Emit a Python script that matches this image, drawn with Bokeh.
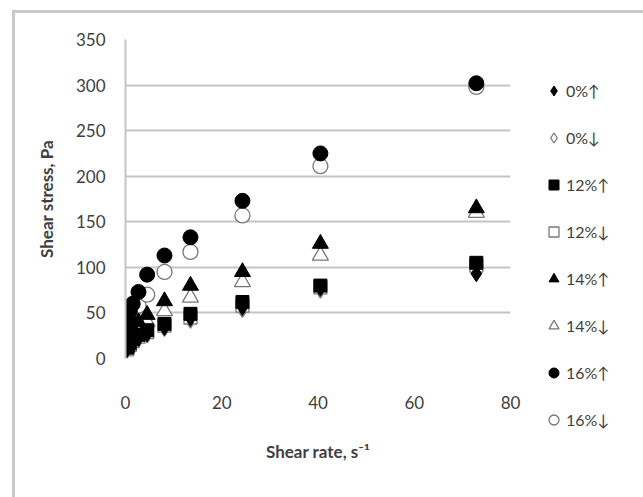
from bokeh.plotting import figure
from bokeh.models import Range1d, Legend, LegendItem, FixedTicker
from bokeh.embed import file_html
from bokeh.resources import INLINE

shear_rate = [0.3, 0.5, 0.9, 1.5, 2.7, 4.5, 8.1, 13.5, 24.3, 40.5, 72.9]

s0_up   = [10, 12, 15, 18, 22, 27, 34, 44, 56, 77, 93]
s0_dn   = [9, 11, 14, 17, 21, 26, 33, 42, 54, 75, 96]
s12_up  = [12, 14, 17, 21, 26, 31, 38, 49, 62, 80, 105]
s12_dn  = [10, 12, 15, 19, 24, 29, 36, 45, 58, 78, 102]
s14_up  = [18, 22, 28, 33, 40, 48, 63, 80, 95, 126, 165]
s14_dn  = [14, 18, 22, 27, 33, 40, 52, 67, 84, 113, 160]
s16_up  = [35, 45, 52, 60, 73, 92, 113, 133, 173, 225, 302]
s16_dn  = [28, 35, 42, 50, 58, 70, 95, 117, 157, 211, 298]

legend_labels = ["0%↑", "0%↓", "12%↑", "12%↓", "14%↑", "14%↓", "16%↑", "16%↓"]
x_ticks = [0, 20, 40, 60, 80]
y_ticks = [0, 50, 100, 150, 200, 250, 300, 350]

FONT = "Lato"
TXT = "#404040"
GRID = "#c4c4c4"
OPEN_LINE = "#777777"

p = figure(frame_width=385, frame_height=319,
           min_border_left=110, min_border_top=26, min_border_bottom=141,
           min_border_right=110,
           x_range=Range1d(0, 80), y_range=Range1d(0, 350),
           output_backend="svg", toolbar_location=None,
           margin=(10, 0, 0, 12),
           styles={"border-top": "3px solid #c8c8c8",
                   "border-left": "3px solid #c8c8c8",
                   "border-right": "3px solid #c8c8c8"})
p.outline_line_color = None
p.background_fill_color = "white"
p.border_fill_color = "white"

p.xaxis.ticker = FixedTicker(ticks=x_ticks)
p.yaxis.ticker = FixedTicker(ticks=y_ticks)
p.xgrid.grid_line_color = None
p.ygrid.grid_line_color = GRID
p.ygrid.grid_line_width = 2

for ax in (p.xaxis[0], p.yaxis[0]):
    ax.major_tick_line_color = None
    ax.minor_tick_line_color = None
    ax.major_label_text_font = FONT
    ax.major_label_text_font_size = "17px"
    ax.major_label_text_color = TXT
    ax.axis_label_text_font = FONT
    ax.axis_label_text_font_size = "17px"
    ax.axis_label_text_font_style = "bold"
    ax.axis_label_text_color = TXT

p.xaxis.axis_line_color = None
p.yaxis.axis_line_color = GRID
p.yaxis.axis_line_width = 2
p.xaxis.major_label_standoff = 31
p.yaxis.major_label_standoff = 14
p.xaxis.axis_label = "Shear rate, s⁻¹"
p.yaxis.axis_label = "Shear stress, Pa"
p.xaxis.axis_label_standoff = 29
p.yaxis.axis_label_standoff = 16

# open (down) series first, filled (up) series on top
r0d = p.scatter(shear_rate, s0_dn, marker="diamond", size=16, fill_color="white", line_color=OPEN_LINE, line_width=1.3)
r12d = p.scatter(shear_rate, s12_dn, marker="square", size=13, fill_color="white", line_color=OPEN_LINE, line_width=1.3)
r14d = p.scatter(shear_rate, s14_dn, marker="triangle", size=16, fill_color="white", line_color=OPEN_LINE, line_width=1.3)
r16d = p.scatter(shear_rate, s16_dn, marker="circle", size=15, fill_color="white", line_color=OPEN_LINE, line_width=1.3)
r0u = p.scatter(shear_rate, s0_up, marker="diamond", size=16, fill_color="black", line_color="black")
r12u = p.scatter(shear_rate, s12_up, marker="square", size=13, fill_color="black", line_color="black")
r14u = p.scatter(shear_rate, s14_up, marker="triangle", size=16, fill_color="black", line_color="black")
r16u = p.scatter(shear_rate, s16_up, marker="circle", size=15, fill_color="black", line_color="black")

rends = [r0u, r0d, r12u, r12d, r14u, r14d, r16u, r16d]
items = [LegendItem(label=l, renderers=[r]) for l, r in zip(legend_labels, rends)]
legend = Legend(items=items, location="top_left",
                margin=31, padding=5,
                glyph_width=25, glyph_height=25, label_height=41,
                spacing=6, label_standoff=0,
                label_text_font="Lato, 'DejaVu Sans'", label_text_font_size="16px",
                label_text_color=TXT,
                border_line_color=None, background_fill_alpha=0)
p.add_layout(legend, "right")

open("out.html", "w").write(file_html(p, INLINE))
